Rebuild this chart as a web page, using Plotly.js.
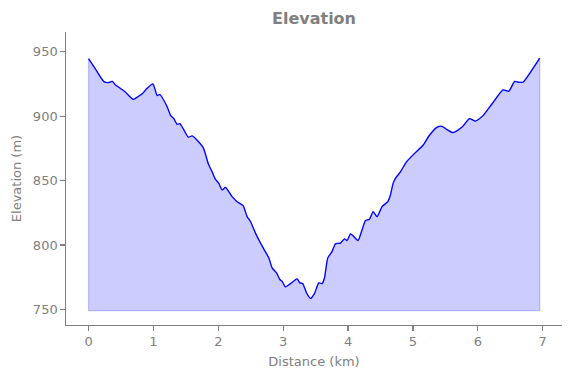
<!DOCTYPE html>
<html>
<head>
<meta charset="utf-8">
<script src="https://cdn.plot.ly/plotly-3.0.1.min.js"></script>
<style>html,body{margin:0;padding:0;background:#fff}#chart{width:571px;height:378px}</style>
</head>
<body>
<div id="chart"></div>
<script>
const distanceKm = [0, 0.1, 0.236, 0.3, 0.365, 0.42, 0.467, 0.57, 0.688, 0.76, 0.827, 0.894, 0.991, 1.058, 1.1, 1.21, 1.264, 1.315, 1.367, 1.407, 1.459, 1.536, 1.597, 1.674, 1.767, 1.8, 1.844, 1.905, 1.957, 2.008, 2.06, 2.11, 2.162, 2.213, 2.29, 2.383, 2.444, 2.496, 2.573, 2.65, 2.702, 2.779, 2.83, 2.897, 2.948, 2.984, 3.035, 3.112, 3.215, 3.256, 3.302, 3.359, 3.42, 3.482, 3.549, 3.6, 3.636, 3.687, 3.754, 3.806, 3.883, 3.945, 3.985, 4.037, 4.088, 4.154, 4.216, 4.268, 4.329, 4.386, 4.447, 4.524, 4.612, 4.653, 4.694, 4.73, 4.807, 4.9, 5.013, 5.156, 5.243, 5.362, 5.449, 5.526, 5.618, 5.757, 5.87, 5.963, 6.081, 6.22, 6.389, 6.476, 6.512, 6.568, 6.63, 6.697, 6.81, 6.954];
const elevationM = [944.6, 937, 926.8, 926, 927, 924, 922.4, 918.6, 913, 915, 917.3, 921.2, 925, 916, 916.8, 907.5, 900.6, 898, 893.6, 894.2, 890.3, 883.8, 884.6, 881.3, 875.6, 871, 863.3, 856.8, 850.9, 847.8, 842.7, 844.7, 841.4, 837.5, 833.6, 830.5, 822, 818.2, 809.2, 801.5, 796.8, 789.9, 782.2, 778.3, 773.2, 771.8, 767.5, 770, 773.7, 770.6, 770, 762.9, 758.5, 762.3, 770.6, 770, 774.4, 789.9, 795, 801, 801.5, 804.8, 803.5, 808.7, 806.6, 803.5, 811.8, 819, 820, 825.9, 822, 829.8, 833.6, 838.8, 847.8, 851.7, 856.8, 864.5, 870.5, 877.4, 884.4, 891.1, 892.1, 889.5, 887.2, 891.5, 898, 896.2, 900.4, 909.6, 920.4, 919.3, 922, 927, 926.3, 926.3, 934, 945];
const fillBase = 749;
const xTicks = [0, 1, 2, 3, 4, 5, 6, 7];
const yTicks = [750, 800, 850, 900, 950];

const n = distanceKm.length;
const polyX = distanceKm.concat([distanceKm[n - 1], distanceKm[0], distanceKm[0]]);
const polyY = elevationM.concat([fillBase, fillBase, elevationM[0]]);

const gray = '#808080';
const traces = [
  {x: polyX, y: polyY, mode: 'lines', fill: 'toself', fillcolor: 'rgba(0,0,255,0.2)',
   line: {color: 'rgba(0,0,255,0.2)', width: 1.3}, hoverinfo: 'skip', showlegend: false},
  {x: distanceKm, y: elevationM, mode: 'lines', line: {color: '#0000ff', width: 1.3, shape: 'spline', smoothing: 0.6}, showlegend: false}
];
const layout = {
  width: 571, height: 378,
  margin: {l: 66, r: 9, t: 32, b: 53},
  paper_bgcolor: '#fff', plot_bgcolor: '#fff',
  font: {family: 'DejaVu Sans', color: gray, size: 13},
  title: {text: '<b>Elevation</b>', x: 0.5, xref: 'paper', xanchor: 'center', y: 0.952, yanchor: 'middle',
          font: {family: 'DejaVu Sans', size: 16, color: gray}},
  xaxis: {range: [-0.3475, 7.2975], tickvals: xTicks, ticktext: xTicks.map(String),
          showgrid: false, zeroline: false, showline: true, linecolor: gray, linewidth: 1.2,
          ticks: 'outside', ticklen: 4.5, tickcolor: gray, tickwidth: 1.2,
          tickfont: {size: 13, color: gray},
          title: {text: 'Distance (km)', font: {size: 13, color: gray}, standoff: 8}},
  yaxis: {range: [737.9, 965.3], tickvals: yTicks, ticktext: yTicks.map(String),
          showgrid: false, zeroline: false, showline: true, linecolor: gray, linewidth: 1.2,
          ticks: 'outside', ticklen: 4.5, tickcolor: gray, tickwidth: 1.2,
          tickfont: {size: 13, color: gray},
          title: {text: 'Elevation (m)', font: {size: 13, color: gray}, standoff: 8}}
};
Plotly.newPlot('chart', traces, layout, {staticPlot: true, displayModeBar: false});
</script>
</body>
</html>
